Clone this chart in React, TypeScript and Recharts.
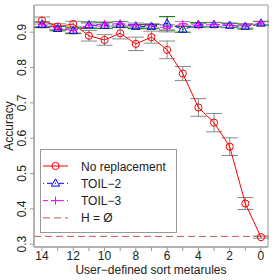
import { CartesianGrid, ErrorBar, Legend, Line, LineChart, ReferenceArea, ReferenceLine, XAxis, YAxis } from "recharts";

const metarules: number[] = [14, 13, 12, 11, 10, 9, 8, 7, 6, 5, 4, 3, 2, 1, 0];
const noReplacement: number[] = [0.933, 0.916, 0.923, 0.89, 0.878, 0.897, 0.867, 0.886, 0.85, 0.783, 0.687, 0.644, 0.576, 0.415, 0.32];
const noReplacementErr: number[] = [0.01, 0.008, 0.008, 0.015, 0.015, 0.016, 0.019, 0.017, 0.025, 0.02, 0.025, 0.026, 0.025, 0.017, 0.003];
const toil2: number[] = [0.921, 0.91, 0.904, 0.92, 0.919, 0.922, 0.916, 0.916, 0.925, 0.908, 0.921, 0.921, 0.919, 0.916, 0.925];
const toil2Err: number[] = [0.008, 0.006, 0.008, 0.009, 0.008, 0.008, 0.006, 0.006, 0.019, 0.008, 0.006, 0.006, 0.006, 0.007, 0.005];
const toil3: number[] = [0.922, 0.912, 0.904, 0.92, 0.923, 0.924, 0.92, 0.918, 0.911, 0.924, 0.919, 0.922, 0.92, 0.918, 0.926];
const toil3Err: number[] = [0.006, 0.006, 0.006, 0.006, 0.006, 0.006, 0.006, 0.006, 0.01, 0.006, 0.006, 0.006, 0.006, 0.006, 0.005];
const emptyH = 0.322;

const yTicks: number[] = [0.3, 0.4, 0.5, 0.6, 0.7, 0.8, 0.9];
const seriesNames: string[] = ["No replacement", "TOIL\u22122", "TOIL\u22123", "H = \u00D8"];

const X_DOMAIN: [number, number] = [-0.45, 14.51];
const Y_DOMAIN: [number, number] = [0.292, 0.977];
const FONT = "'Liberation Sans', Arial, sans-serif";
const AXIS = "#999";
const TEXT = "#222";

const data = metarules.map((x, i) => ({
  x,
  nr: noReplacement[i],
  nrErr: noReplacementErr[i],
  t2: toil2[i],
  t2Err: toil2Err[i],
  t3: toil3[i],
  t3Err: toil3Err[i],
}));

const circle = (p: any) => (
  <circle key={`c-${p.index}`} cx={p.cx} cy={p.cy} r={3.6} fill="none" stroke="#ff0000" strokeWidth={1} />
);

const triangle = (p: any) => (
  <path
    key={`t-${p.index}`}
    d={`M${p.cx},${p.cy - 4.5}L${p.cx - 4.2},${p.cy + 2.8}L${p.cx + 4.2},${p.cy + 2.8}Z`}
    fill="none"
    stroke="#0000ff"
    strokeWidth={1}
  />
);

const plus = (p: any) => (
  <path
    key={`p-${p.index}`}
    d={`M${p.cx - 4},${p.cy}H${p.cx + 4}M${p.cx},${p.cy - 4}V${p.cy + 4}`}
    stroke="#ff00ff"
    strokeWidth={1}
  />
);

const XTick = (props: any) => {
  const v = props.payload.value;
  if (v % 2 !== 0) return <g />;
  return (
    <text x={props.x} y={props.y + 7} textAnchor="middle" fontSize={12} fontFamily={FONT} fill={TEXT}>
      {v}
    </text>
  );
};

const YTick = (props: any) => (
  <text
    x={props.x - 2}
    y={props.y}
    textAnchor="middle"
    fontSize={12}
    fontFamily={FONT}
    fill={TEXT}
    transform={`rotate(-90 ${props.x - 2} ${props.y})`}
  >
    {Number(props.payload.value).toFixed(1)}
  </text>
);

const legendStyles = [
  { color: "#ff0000", dash: undefined, marker: "circle" },
  { color: "#0000ff", dash: "1 3 5 3", marker: "triangle" },
  { color: "#ff00ff", dash: "5 3", marker: "plus" },
  { color: "#cc5555", dash: "7 4", marker: "" },
];

const LegendBox = () => (
  <svg width={137} height={84}>
    <rect x={0.5} y={0.5} width={136} height={83} fill="#fff" stroke={AXIS} />
    {seriesNames.map((name, i) => {
      const s = legendStyles[i];
      const y = 17 + i * 17.3;
      return (
        <g key={name}>
          <line x1={3} x2={28} y1={y} y2={y} stroke={s.color} strokeDasharray={s.dash} />
          {s.marker === "circle" && circle({ cx: 15.5, cy: y, index: "l" })}
          {s.marker === "triangle" && triangle({ cx: 15.5, cy: y, index: "l" })}
          {s.marker === "plus" && plus({ cx: 15.5, cy: y, index: "l" })}
          <text x={41} y={y + 4.5} fontSize={12} fontFamily={FONT} fill={TEXT}>
            {name}
          </text>
        </g>
      );
    })}
  </svg>
);

export default function App() {
  return (
    <div style={{ position: "absolute", left: 0, top: 0, background: "#fff" }}>
      <LineChart width={274} height={280} data={data} margin={{ top: 5, right: 6, bottom: 0, left: 0 }}>
        <CartesianGrid stroke="none" />
        <XAxis
          dataKey="x"
          type="number"
          domain={X_DOMAIN}
          reversed
          allowDataOverflow
          ticks={metarules}
          interval={0}
          height={33}
          tickSize={4}
          tickMargin={2}
          stroke={AXIS}
          tick={<XTick />}
          label={{ value: "User\u2212defined sort metarules", position: "insideBottom", offset: 6, fontSize: 12, fontFamily: FONT, fill: TEXT }}
        />
        <YAxis
          type="number"
          domain={Y_DOMAIN}
          allowDataOverflow
          ticks={yTicks}
          interval={0}
          width={34}
          tickSize={4}
          tickMargin={2}
          stroke={AXIS}
          tick={<YTick />}
          label={{
            content: () => (
              <text x={13} y={126} textAnchor="middle" fontSize={12} fontFamily={FONT} fill={TEXT} transform="rotate(-90 13 126)">
                Accuracy
              </text>
            ),
          }}
        />
        <ReferenceArea x1={X_DOMAIN[0]} x2={X_DOMAIN[1]} y1={Y_DOMAIN[0]} y2={Y_DOMAIN[1]} fill="none" stroke={AXIS} ifOverflow="visible" />
        <ReferenceLine y={emptyH} stroke="#cc5555" strokeDasharray="7 4" />
        <Line type="linear" dataKey="nr" stroke="#ff0000" strokeWidth={1} dot={circle} isAnimationActive={false}>
          <ErrorBar dataKey="nrErr" direction="y" width={8} stroke="#888" strokeWidth={1} />
        </Line>
        <Line type="linear" dataKey="t2" stroke="#0000ff" strokeWidth={1} strokeDasharray="1 3 5 3" dot={triangle} isAnimationActive={false}>
          <ErrorBar dataKey="t2Err" direction="y" width={8} stroke="#006400" strokeWidth={1} />
        </Line>
        <Line type="linear" dataKey="t3" stroke="#ff00ff" strokeWidth={1} strokeDasharray="5 3" dot={plus} isAnimationActive={false}>
          <ErrorBar dataKey="t3Err" direction="y" width={8} stroke="#888" strokeWidth={1} />
        </Line>
        <Legend
          layout="vertical"
          align="center"
          verticalAlign="middle"
          wrapperStyle={{ left: 40, top: 149, width: 137, height: 84 }}
          content={() => <LegendBox />}
        />
      </LineChart>
    </div>
  );
}
